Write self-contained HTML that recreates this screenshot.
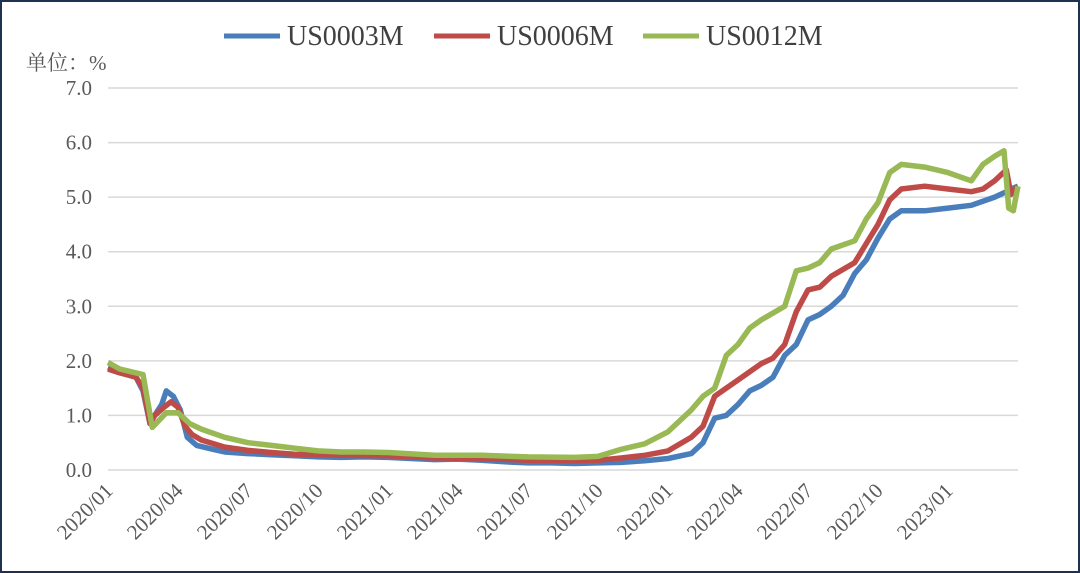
<!DOCTYPE html>
<html><head><meta charset="utf-8"><style>
html,body{margin:0;padding:0;background:#fff;}
#wrap{width:1080px;height:573px;position:relative;box-sizing:border-box;border:2px solid #1f3050;overflow:hidden;}
svg text{font-family:"Liberation Serif","Noto Serif CJK SC",serif;fill:#595959;}
</style></head><body>
<div id="wrap">
<svg id="chart" width="1076" height="569" viewBox="2 2 1076 569"></svg>
</div>
<script>
const yTicks=[0,1,2,3,4,5,6,7];
const xTickLabels=["2020/01","2020/04","2020/07","2020/10","2021/01","2021/04","2021/07","2021/10","2022/01","2022/04","2022/07","2022/10","2023/01"];
const seriesNames=["US0003M","US0006M","US0012M"];
const colors=["#4a7ebb","#be4b48","#98b954"];
// month offsets from 2020/01
const m3=[0,0.5,1.2,1.5,1.8,2.0,2.3,2.5,2.8,3.1,3.4,3.8,4.5,5,6,7,8,9,10,11,12,13,14,15,16,17,18,19,20,21,22,23,24,25,25.5,26,26.5,27,27.5,28,28.5,29,29.5,30,30.5,31,31.5,32,32.5,33,33.5,34,35,36,37,38,38.5,38.7,39];
const v3=[1.88,1.80,1.70,1.45,0.85,1.0,1.2,1.45,1.35,1.1,0.6,0.45,0.38,0.33,0.30,0.28,0.26,0.24,0.23,0.24,0.23,0.21,0.19,0.2,0.18,0.15,0.13,0.13,0.12,0.13,0.14,0.17,0.21,0.30,0.50,0.95,1.0,1.2,1.45,1.55,1.7,2.1,2.3,2.75,2.85,3.0,3.2,3.6,3.85,4.25,4.6,4.75,4.75,4.8,4.85,5.0,5.1,5.15,5.2];
const m6=[0,0.5,1.2,1.5,1.8,2.0,2.4,2.7,3.0,3.3,3.6,4,5,6,7,8,10,12,14,16,18,20,21,22,23,24,25,25.5,26,26.5,27,28,28.5,29,29.5,30,30.5,31,32,32.5,33,33.5,34,35,36,37,37.5,38,38.5,38.7,39];
const v6=[1.85,1.78,1.70,1.5,0.85,1.0,1.15,1.25,1.15,0.8,0.65,0.55,0.42,0.36,0.32,0.29,0.27,0.26,0.22,0.21,0.18,0.17,0.18,0.22,0.27,0.35,0.6,0.8,1.35,1.5,1.65,1.95,2.05,2.3,2.9,3.3,3.35,3.55,3.8,4.15,4.5,4.95,5.15,5.2,5.15,5.1,5.15,5.3,5.5,5.05,5.2];
const m12=[0,0.5,1.2,1.5,1.9,2.5,3,3.5,4,5,6,7,8,9,10,11,12,14,16,18,20,21,22,23,24,25,25.5,26,26.5,27,27.5,28,29,29.5,30,30.5,31,32,32.5,33,33.5,34,35,36,37,37.5,38,38.4,38.6,38.8,39];
const v12=[1.97,1.85,1.78,1.75,0.78,1.05,1.05,0.85,0.75,0.6,0.5,0.45,0.4,0.35,0.33,0.33,0.32,0.27,0.27,0.24,0.23,0.25,0.38,0.48,0.7,1.1,1.35,1.5,2.1,2.3,2.6,2.75,3.0,3.65,3.7,3.8,4.05,4.2,4.6,4.9,5.45,5.6,5.55,5.45,5.3,5.6,5.75,5.85,4.8,4.75,5.2];
const X0=108,X1=1018,Y0=470,Y7=88;
const xs=m=>X0+m*(X1-X0)/39;
const ys=v=>Y0-v*(Y0-Y7)/7;
const svg=document.getElementById('chart');
const NS="http://www.w3.org/2000/svg";
function mk(t,a){const e=document.createElementNS(NS,t);for(const k in a)e.setAttribute(k,a[k]);svg.appendChild(e);return e;}
yTicks.forEach(t=>{
 const g=mk('line',{x1:X0,x2:X1,y1:ys(t),y2:ys(t),stroke:'#d9d9d9','stroke-width':1.5});
 
 
 const l=mk('text',{x:92,y:ys(t)+7,'text-anchor':'end','font-size':21});
 l.textContent=t.toFixed(1);
 
 
});
xTickLabels.forEach((s,i)=>{
 const x=xs(i*3);
 const l=mk('text',{x:x+6,y:492,'text-anchor':'end','font-size':21,transform:`rotate(-45 ${x+6} 492)`});
 l.textContent=s;
 
 
});
const u=mk('text',{x:26,y:70,'font-size':21});u.textContent='单位：%';


[[m3,v3],[m6,v6],[m12,v12]].forEach((d,i)=>{
 const pts=d[0].map((m,j)=>xs(m).toFixed(1)+','+ys(d[1][j]).toFixed(1)).join(' ');
 const p=mk('polyline',{points:pts,fill:'none',stroke:colors[i],'stroke-width':5.5,'stroke-linejoin':'round'});
 
 
});
const lx=[224,434,643];
seriesNames.forEach((n,i)=>{
 const ln=mk('line',{x1:lx[i],x2:lx[i]+56,y1:36,y2:36,stroke:colors[i],'stroke-width':5});
 
 
 const t=mk('text',{x:lx[i]+63,y:45,'font-size':28,style:'fill:#404040'});t.textContent=n;
 
 
});
</script>
</body></html>
